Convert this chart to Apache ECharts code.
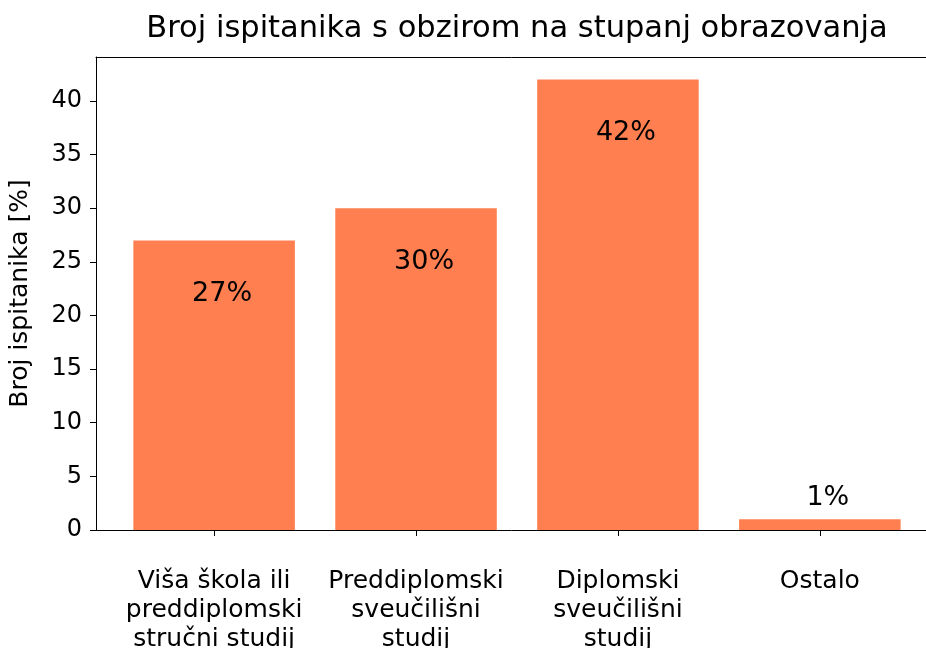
<!DOCTYPE html>
<html>
<head>
<meta charset="utf-8">
<script src="https://cdn.jsdelivr.net/npm/echarts@6/dist/echarts.min.js"></script>
<style>
  html, body { margin: 0; padding: 0; background: #fff; }
  #chart { width: 926px; height: 648px; }
</style>
</head>
<body>
<div id="chart"></div>
<script>
// podaci
var categories = ['Viša škola ili\npreddiplomski\nstručni studij', 'Preddiplomski\nsveučilišni\nstudij', 'Diplomski\nsveučilišni\nstudij', 'Ostalo'];
var values = [27, 30, 42, 1];
var yTicks = [0, 5, 10, 15, 20, 25, 30, 35, 40];
var xPositions = [0, 1, 2, 3];

var FONT = 'DejaVu Sans';
var plotW = 844; // matplotlib axes run past the right edge of the picture
var xMin = -0.585, xMax = 3.595;
var barW = 0.8 * plotW / (xMax - xMin);

var barData = [];
var labelData = [];
for (var i = 0; i < values.length; i++) {
    barData.push([xPositions[i], values[i]]);
    // text sits 5 below the top, or 2 above a short bar
    labelData.push([xPositions[i], values[i] > 5 ? values[i] - 5 : values[i] + 2, values[i]]);
}

var chart = echarts.init(document.getElementById('chart'), null, { renderer: 'canvas' });
chart.setOption({
    animation: false,
    backgroundColor: '#fff',
    title: {
        text: 'Broj ispitanika s obzirom na stupanj obrazovanja',
        left: 512,
        top: 9,
        textAlign: 'center',
        textStyle: { fontFamily: FONT, fontSize: 30.5, fontWeight: 'normal', color: '#000' }
    },
    grid: { left: 96, top: 57, width: plotW, height: 473, containLabel: false, outerBoundsMode: 'none' },
    xAxis: [{
        type: 'value',
        min: xMin,
        max: xMax,
        splitLine: { show: false },
        axisLine: { show: true, onZero: false, lineStyle: { color: '#000', width: 1 } },
        axisTick: { show: true, length: 6, customValues: xPositions, lineStyle: { color: '#000' } },
        axisLabel: {
            customValues: xPositions,
            margin: 37,
            fontFamily: FONT,
            fontSize: 25,
            lineHeight: 29,
            color: '#000',
            align: 'center',
            formatter: function (v) { return categories[Math.round(v)]; }
        }
    }, {
        type: 'value',
        position: 'top',
        min: xMin,
        max: xMax,
        splitLine: { show: false },
        axisLine: { show: true, onZero: false, lineStyle: { color: '#000', width: 1 } },
        axisTick: { show: false },
        axisLabel: { show: false }
    }],
    yAxis: {
        type: 'value',
        min: 0,
        max: 44.1,
        name: 'Broj ispitanika [%]',
        nameLocation: 'middle',
        nameRotate: 90,
        nameGap: 63,
        nameTextStyle: { fontFamily: FONT, fontSize: 25, color: '#000' },
        splitLine: { show: false },
        axisLine: { show: true, onZero: false, lineStyle: { color: '#000', width: 1 } },
        axisTick: { show: true, length: 6, customValues: yTicks, lineStyle: { color: '#000' } },
        axisLabel: {
            customValues: yTicks,
            margin: 14,
            fontFamily: FONT,
            fontSize: 24,
            color: '#000'
        }
    },
    series: [{
        type: 'bar',
        data: barData,
        barWidth: barW,
        itemStyle: { color: '#ff7f50' }
    }, {
        type: 'scatter',
        data: labelData,
        symbolSize: 0,
        silent: true,
        itemStyle: { opacity: 1 },
        label: {
            show: true,
            position: 'inside',
            offset: [8, 0],
            fontFamily: FONT,
            fontSize: 27,
            color: '#000',
            formatter: function (p) { return p.value[2] + '%'; }
        }
    }]
});
</script>
</body>
</html>
